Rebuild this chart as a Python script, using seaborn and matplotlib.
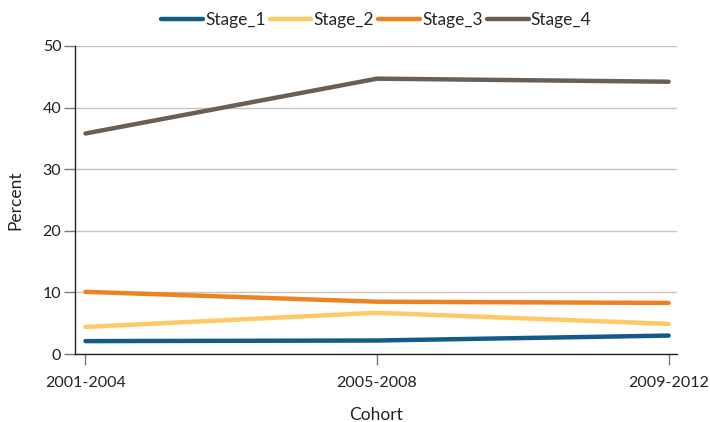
import pandas as pd
import matplotlib.pyplot as plt
import seaborn as sns

# ---------------------------------------------------------
# Data
# ---------------------------------------------------------
COHORTS = ['2001-2004', '2005-2008', '2009-2012']
STAGES = ['Stage_1', 'Stage_2', 'Stage_3', 'Stage_4']
STAGE_1 = [2.1, 2.2, 3.0]
STAGE_2 = [4.4, 6.7, 4.9]
STAGE_3 = [10.1, 8.5, 8.3]
STAGE_4 = [35.8, 44.7, 44.2]
COLORS = ['#145a88', '#ffc966', '#ee8122', '#6b5e55']

sns.set_theme(style='white')
plt.rcParams['font.family'] = ['Lato', 'DejaVu Sans']

df = pd.DataFrame({
    'Cohort': COHORTS * 4,
    'Percent': STAGE_1 + STAGE_2 + STAGE_3 + STAGE_4,
    'Stage': [s for s in STAGES for _ in COHORTS],
})
df['x'] = df['Cohort'].map({c: i for i, c in enumerate(COHORTS)})

fig = plt.figure(figsize=(7.1, 4.22), dpi=100)
ax = fig.add_axes([0.106, 0.161, 0.848, 0.730])

sns.lineplot(data=df, x='x', y='Percent', hue='Stage', hue_order=STAGES,
             palette=COLORS, linewidth=3.2, ax=ax)

ax.set_xlim(-0.035, 2.03)
ax.set_ylim(0, 50)
ax.set_xticks(range(len(COHORTS)))
ax.set_xticklabels(COHORTS)
ax.set_yticks(range(0, 51, 10))

ax.yaxis.grid(True, color='#c8c4c0', linewidth=1)
ax.set_axisbelow(True)
for side in ['top', 'right']:
    ax.spines[side].set_visible(False)
for side in ['left', 'bottom']:
    ax.spines[side].set_color('#222222')
    ax.spines[side].set_linewidth(1)

ax.tick_params(axis='both', which='major', length=8, width=1, color='#777777',
               labelsize=11.5, labelcolor='#222222', direction='out')
ax.tick_params(axis='x', pad=8)
ax.tick_params(axis='y', pad=2)
ax.xaxis.set_ticks_position('bottom')
ax.yaxis.set_ticks_position('left')

ax.set_xlabel('Cohort', fontsize=12.5, labelpad=12, color='#222222')
ax.set_ylabel('Percent', fontsize=12.5, labelpad=14, color='#222222')

ax.legend(loc='lower center', bbox_to_anchor=(0.5, 1.02), ncol=4, frameon=False,
          fontsize=12.5, handlelength=2.4, handletextpad=0.12, columnspacing=0.25,
          borderaxespad=0.3)

fig.savefig('out.png', dpi=100)
